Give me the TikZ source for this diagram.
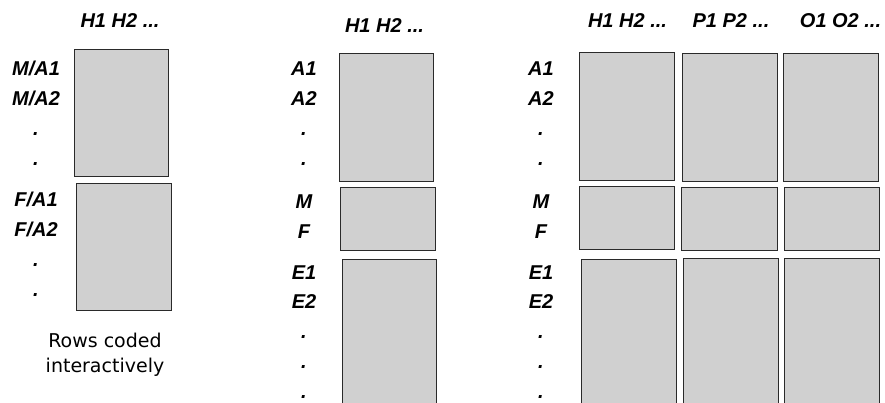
\documentclass[tikz,border=0pt]{standalone}
\usepackage{fontspec}
\usetikzlibrary{fit}
\newfontfamily\labfont{Liberation Sans}
\newfontfamily\notefont{DejaVu Sans}
\definecolor{boxfill}{HTML}{D0D0D0}
\definecolor{boxline}{HTML}{2A2A2A}
\tikzset{
  box/.style={draw=boxline, fill=boxfill, line width=0.9pt, inner sep=0pt, rectangle},
  lab/.style={anchor=base, inner sep=0pt, font=\labfont\bfseries\itshape\fontsize{20}{22}\selectfont},
  note/.style={anchor=base, inner sep=0pt, font=\notefont\fontsize{19}{21}\selectfont},
}
\begin{document}
\begin{tikzpicture}[x=1pt,y=-1pt]
\useasboundingbox (0,0) rectangle (885,402);
\clip (0,0) rectangle (885,402);
% ---------- panel 1 ----------
\node[lab] (h1) at (120,27) {H1 H2 ...};
\node[box, fit={(74,49) (168,176)}] (p1a) {};
\node[box, fit={(76,183) (171,310)}] (p1f) {};
\node[lab] (p1l1) at (36,75) {M/A1};
\node[lab] (p1l2) at (36,105) {M/A2};
\node[lab] (p1l3) at (36,135) {.};
\node[lab] (p1l4) at (36,165) {.};
\node[lab] (p1l5) at (36,206) {F/A1};
\node[lab] (p1l6) at (36,236) {F/A2};
\node[lab] (p1l7) at (36,266) {.};
\node[lab] (p1l8) at (36,296) {.};
\node[note] (n1) at (105,347) {Rows coded};
\node[note] (n2) at (105,372) {interactively};
% ---------- panel 2 ----------
\node[lab] (h2) at (384.5,32) {H1 H2 ...};
\node[box, fit={(339,53) (433,181)}] (p2a) {};
\node[box, fit={(340,187) (435,250)}] (p2m) {};
\node[box, fit={(342,259) (436,412)}] (p2e) {};
\node[lab] (p2l1) at (304,75) {A1};
\node[lab] (p2l2) at (304,105) {A2};
\node[lab] (p2l3) at (304,135) {.};
\node[lab] (p2l4) at (304,165) {.};
\node[lab] (p2l5) at (304,208) {M};
\node[lab] (p2l6) at (304,238) {F};
\node[lab] (p2l7) at (304,279) {E1};
\node[lab] (p2l8) at (304,308) {E2};
\node[lab] (p2l9) at (304,338) {.};
\node[lab] (p2l10) at (304,368) {.};
\node[lab] (p2l11) at (304,398) {.};
% ---------- panel 3 ----------
\node[lab] (h3a) at (627.5,27) {H1 H2 ...};
\node[lab] (h3b) at (731,27) {P1 P2 ...};
\node[lab] (h3c) at (840.5,27) {O1 O2 ...};
\node[box, fit={(579,52) (674,180)}] (p3a1) {};
\node[box, fit={(682,53) (777,181)}] (p3a2) {};
\node[box, fit={(783,53) (878,181)}] (p3a3) {};
\node[box, fit={(579,186) (674,249)}] (p3m1) {};
\node[box, fit={(681,187) (777,250)}] (p3m2) {};
\node[box, fit={(784,187) (879,250)}] (p3m3) {};
\node[box, fit={(581,259) (676,412)}] (p3e1) {};
\node[box, fit={(683,258) (778,412)}] (p3e2) {};
\node[box, fit={(784,258) (879,412)}] (p3e3) {};
\node[lab] (p3l1) at (541,75) {A1};
\node[lab] (p3l2) at (541,105) {A2};
\node[lab] (p3l3) at (541,135) {.};
\node[lab] (p3l4) at (541,165) {.};
\node[lab] (p3l5) at (541,208) {M};
\node[lab] (p3l6) at (541,238) {F};
\node[lab] (p3l7) at (541,279) {E1};
\node[lab] (p3l8) at (541,308) {E2};
\node[lab] (p3l9) at (541,338) {.};
\node[lab] (p3l10) at (541,368) {.};
\node[lab] (p3l11) at (541,398) {.};
\end{tikzpicture}
\end{document}
